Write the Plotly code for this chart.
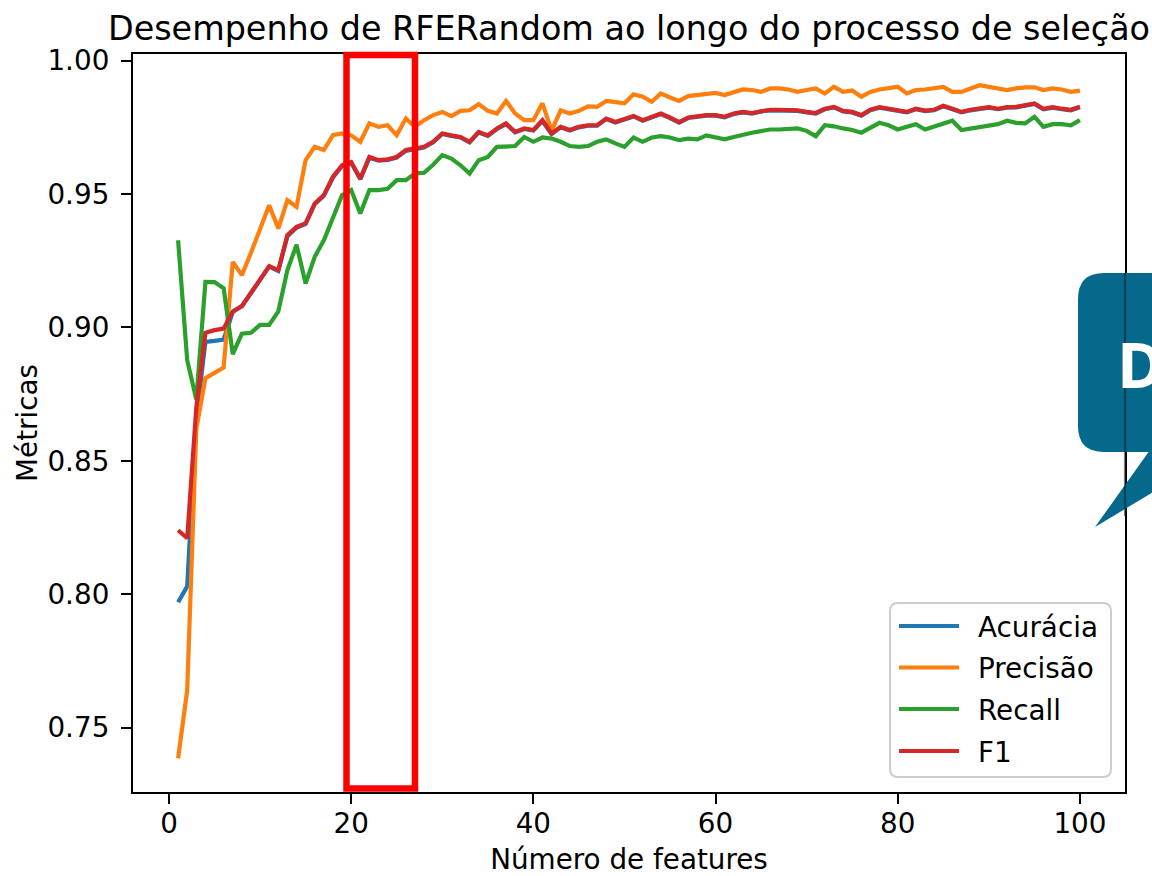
import plotly.graph_objects as go

# ---------------- data ----------------
n_features = list(range(1, 101))

acuracia = [
    0.797, 0.803, 0.866, 0.8946, 0.8950, 0.8955, 0.9058, 0.9080, 0.9128, 0.9175,
    0.9228, 0.9212, 0.9342, 0.9374, 0.9388, 0.9462, 0.9494, 0.9562, 0.9605, 0.9618,
    0.9556, 0.9636, 0.9625, 0.9628, 0.9637, 0.9662, 0.9668, 0.9675, 0.9694, 0.9725,
    0.9718, 0.9712, 0.9694, 0.9731, 0.9718, 0.9744, 0.9762, 0.9731, 0.9744, 0.9738,
    0.9774, 0.9725, 0.9750, 0.9738, 0.9750, 0.9756, 0.9756, 0.9781, 0.9768, 0.9781,
    0.9791, 0.9775, 0.9788, 0.9800, 0.9785, 0.9768, 0.9785, 0.9791, 0.9794, 0.9794,
    0.9788, 0.9800, 0.9806, 0.9802, 0.9810, 0.9814, 0.9814, 0.9814, 0.9812, 0.9806,
    0.9802, 0.9818, 0.9825, 0.9810, 0.9806, 0.9794, 0.9814, 0.9824, 0.9818, 0.9810,
    0.9806, 0.9818, 0.9811, 0.9814, 0.9829, 0.9818, 0.9806, 0.9814, 0.9818, 0.9824,
    0.9818, 0.9824, 0.9825, 0.9833, 0.9838, 0.9818, 0.9824, 0.9818, 0.9814, 0.9825,
]

precisao = [
    0.7385, 0.764, 0.862, 0.881, 0.883, 0.885, 0.9246, 0.9196, 0.928, 0.937,
    0.9458, 0.9371, 0.9477, 0.9452, 0.9627, 0.9677, 0.9665, 0.9721, 0.9727, 0.9720,
    0.9696, 0.9765, 0.9752, 0.9758, 0.9721, 0.9783, 0.9752, 0.9777, 0.9796, 0.9808,
    0.9792, 0.9812, 0.9814, 0.9837, 0.9812, 0.9802, 0.9849, 0.9802, 0.9777, 0.9777,
    0.9840, 0.9738, 0.9814, 0.9802, 0.9812, 0.9829, 0.9827, 0.9849, 0.9843, 0.9840,
    0.9874, 0.9865, 0.9846, 0.9877, 0.9862, 0.9849, 0.9867, 0.9871, 0.9877, 0.9879,
    0.9871, 0.9883, 0.9892, 0.9890, 0.9883, 0.9896, 0.9896, 0.9892, 0.9883, 0.9890,
    0.9896, 0.9877, 0.9902, 0.9883, 0.9888, 0.9865, 0.9883, 0.9892, 0.9896, 0.9902,
    0.9877, 0.9890, 0.9892, 0.9896, 0.9902, 0.9883, 0.9883, 0.9896, 0.9908, 0.9902,
    0.9896, 0.9890, 0.9896, 0.9900, 0.9900, 0.9890, 0.9896, 0.9892, 0.9883, 0.9888,
]

recall = [
    0.9327, 0.8877, 0.873, 0.9171, 0.9170, 0.9147, 0.890, 0.8977, 0.898, 0.901,
    0.901, 0.906, 0.9215, 0.931, 0.9165, 0.9265, 0.9327, 0.941, 0.9496, 0.9515,
    0.9427, 0.9515, 0.9515, 0.9520, 0.9552, 0.9552, 0.9577, 0.9580, 0.9610, 0.9646,
    0.9633, 0.9608, 0.9577, 0.9627, 0.9639, 0.9677, 0.9677, 0.9680, 0.9714, 0.9696,
    0.9712, 0.9708, 0.9696, 0.9680, 0.9677, 0.9680, 0.9696, 0.9705, 0.9690, 0.9677,
    0.9712, 0.9696, 0.9712, 0.9717, 0.9712, 0.9702, 0.9708, 0.9705, 0.9720, 0.9714,
    0.9705, 0.9714, 0.9723, 0.9730, 0.9736, 0.9742, 0.9742, 0.9745, 0.9746, 0.9737,
    0.9717, 0.9758, 0.9754, 0.9746, 0.9740, 0.9730, 0.9750, 0.9767, 0.9758, 0.9742,
    0.9752, 0.9762, 0.9742, 0.9754, 0.9765, 0.9775, 0.9740, 0.9745, 0.9752, 0.9754,
    0.9762, 0.9775, 0.9767, 0.9765, 0.9790, 0.9752, 0.9762, 0.9762, 0.9758, 0.9777,
]

f1 = [
    0.824, 0.821, 0.870, 0.898, 0.899, 0.8996, 0.906, 0.908, 0.913, 0.918,
    0.923, 0.9215, 0.9346, 0.9377, 0.939, 0.9465, 0.9496, 0.9565, 0.9608, 0.962,
    0.9558, 0.9639, 0.9627, 0.9630, 0.9639, 0.9665, 0.9670, 0.9677, 0.9696, 0.9727,
    0.9720, 0.9714, 0.9696, 0.9733, 0.9720, 0.9746, 0.9765, 0.9733, 0.9746, 0.9740,
    0.9777, 0.9727, 0.9752, 0.9740, 0.9752, 0.9758, 0.9758, 0.9783, 0.9770, 0.9783,
    0.9793, 0.9777, 0.9790, 0.9802, 0.9787, 0.9770, 0.9787, 0.9793, 0.9796, 0.9796,
    0.9790, 0.9802, 0.9808, 0.9804, 0.9812, 0.9816, 0.9816, 0.9816, 0.9814, 0.9808,
    0.9804, 0.9820, 0.9827, 0.9812, 0.9808, 0.9796, 0.9816, 0.9826, 0.9820, 0.9812,
    0.9808, 0.9820, 0.9813, 0.9816, 0.9831, 0.9820, 0.9808, 0.9816, 0.9820, 0.9826,
    0.9820, 0.9826, 0.9827, 0.9835, 0.9840, 0.9820, 0.9826, 0.9820, 0.9816, 0.9827,
]

series_names = ["Acurácia", "Precisão", "Recall", "F1"]
series_values = [acuracia, precisao, recall, f1]
series_colors = ["#1f77b4", "#ff7f0e", "#2ca02c", "#d62728"]

x_ticks = [0, 20, 40, 60, 80, 100]
y_ticks = [0.75, 0.80, 0.85, 0.90, 0.95, 1.00]

title_text = "Desempenho de RFERandom ao longo do processo de seleção"
x_label = "Número de features"
y_label = "Métricas"
callout_text = "D"

# ---------------- figure ----------------
W, H = 1152, 876
L, R, T, B = 133, 1125, 54, 792          # plot area in pixels
FONT = "DejaVu Sans"
FS = 27.8


def px(x):
    return (x - L) / (R - L)


def py(y):
    return (B - y) / (B - T)


fig = go.Figure()
for name, vals, col in zip(series_names, series_values, series_colors):
    fig.add_trace(go.Scatter(
        x=n_features, y=vals, mode="lines", name=name,
        line=dict(color=col, width=4.2), showlegend=False,
    ))

axis_common = dict(
    showline=True, linecolor="black", linewidth=2.2, mirror=True,
    ticks="outside", ticklen=10, tickwidth=2.2, tickcolor="black",
    showgrid=False, zeroline=False, automargin=False,
    tickfont=dict(family=FONT, size=FS, color="black"),
)

fig.update_layout(
    template="none",
    width=W, height=H,
    margin=dict(l=L, r=W - R, t=T, b=H - B, pad=0, autoexpand=False),
    paper_bgcolor="white", plot_bgcolor="white",
    font=dict(family=FONT, color="black"),
    title=dict(text=title_text, x=px((L + R) / 2), xref="paper", xanchor="center",
               y=1 - 28 / H, yref="container", yanchor="middle",
               font=dict(family=FONT, size=33.4, color="black")),
    xaxis=dict(range=[-3.95, 104.95], tickvals=x_ticks,
               ticktext=[str(v) for v in x_ticks],
               ticklabelstandoff=-4,
               title=dict(text=x_label, standoff=20,
                          font=dict(family=FONT, size=FS, color="black")),
               **axis_common),
    yaxis=dict(range=[0.7259, 1.0025], tickvals=y_ticks,
               ticktext=[f"{v:.2f}" for v in y_ticks],
               ticklabelstandoff=6,
               title=dict(text=y_label, standoff=2,
                          font=dict(family=FONT, size=FS, color="black")),
               **axis_common),
    showlegend=False,
)

# red highlight rectangle
fig.add_shape(type="rect", xref="paper", yref="paper",
              x0=px(346.5), x1=px(415), y0=py(788.5), y1=py(55),
              line=dict(color="#ff0000", width=6.5), fillcolor="rgba(0,0,0,0)",
              layer="above")


def rounded_rect(x0, x1, y0, y1, r):
    return (
        f"M {px(x0)},{py(y0 + r)} "
        f"Q {px(x0)},{py(y0)} {px(x0 + r)},{py(y0)} "
        f"L {px(x1 - r)},{py(y0)} Q {px(x1)},{py(y0)} {px(x1)},{py(y0 + r)} "
        f"L {px(x1)},{py(y1 - r)} Q {px(x1)},{py(y1)} {px(x1 - r)},{py(y1)} "
        f"L {px(x0 + r)},{py(y1)} Q {px(x0)},{py(y1)} {px(x0)},{py(y1 - r)} Z"
    )


# legend (matplotlib style, lower right)
fig.add_shape(type="path", xref="paper", yref="paper",
              path=rounded_rect(890, 1111, 603, 777, 8),
              fillcolor="rgba(255,255,255,0.8)", line=dict(color="#cccccc", width=2),
              layer="above")
legend_rows = [626, 667.5, 709, 751]
for name, col, yy in zip(series_names, series_colors, legend_rows):
    fig.add_shape(type="line", xref="paper", yref="paper",
                  x0=px(899), x1=px(959), y0=py(yy), y1=py(yy),
                  line=dict(color=col, width=4.2), layer="above")
    fig.add_annotation(text=name, xref="paper", yref="paper",
                       x=px(976), y=py(yy + 1), xanchor="left", yanchor="middle",
                       showarrow=False,
                       font=dict(family=FONT, size=FS, color="black"))

# speech-bubble callout at the right edge (partly cut off)
fig.add_shape(type="path", xref="paper", yref="paper",
              path=rounded_rect(1078, 1260, 273, 452, 26),
              fillcolor="#05698b", line=dict(width=0), layer="above")
tail = (f"M {px(1150)},{py(450)} L {px(1095)},{py(527)} "
        f"L {px(1230)},{py(446)} Z")
fig.add_shape(type="path", xref="paper", yref="paper", path=tail,
              fillcolor="#05698b", line=dict(width=0), layer="above")
# axis spine visible through the bubble
fig.add_shape(type="line", xref="paper", yref="paper",
              x0=1, x1=1, y0=py(516), y1=py(273),
              line=dict(color="rgba(20,30,40,0.55)", width=2.2), layer="above")

fig.add_annotation(text=f"<b>{callout_text}</b>", xref="paper", yref="paper",
                   x=px(1115), y=py(364), xanchor="left", yanchor="middle",
                   showarrow=False,
                   font=dict(family="Open Sans", size=63, color="white"))

fig.write_html("out.html", config={"displayModeBar": False},
               post_script="document.body.style.margin='0px';")
